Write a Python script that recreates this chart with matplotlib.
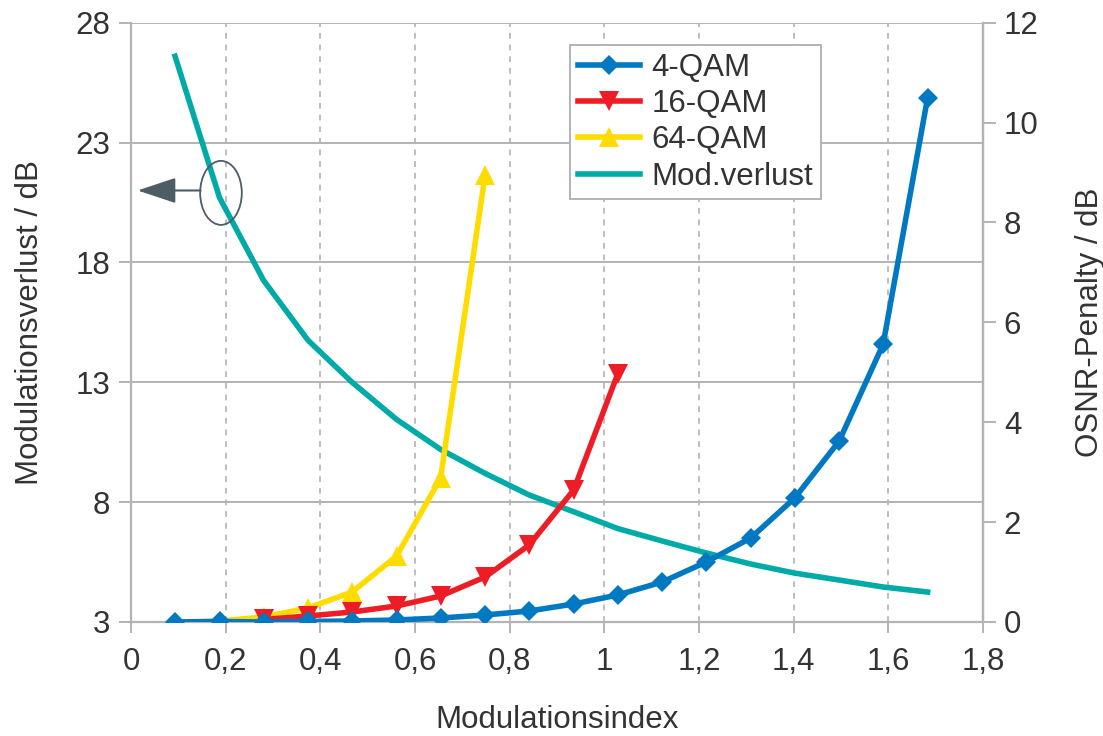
import matplotlib
matplotlib.use("Agg")
import matplotlib.pyplot as plt
from matplotlib.patches import Ellipse
from matplotlib.lines import Line2D
from matplotlib.ticker import FuncFormatter, MultipleLocator

plt.rcParams['font.family'] = ['Liberation Sans', 'DejaVu Sans']

# Modulationsindex
mod_index = [0.093, 0.187, 0.280, 0.374, 0.467, 0.561, 0.654, 0.748, 0.841,
             0.935, 1.028, 1.122, 1.215, 1.309, 1.402, 1.496, 1.589, 1.683]

# OSNR-Penalty / dB (right axis)
qam4 = [0.0, 0.01, 0.0, 0.01, 0.02, 0.04, 0.08, 0.14, 0.22,
        0.36, 0.54, 0.80, 1.20, 1.68, 2.48, 3.62, 5.56, 10.5]
qam16_index = mod_index[2:11]
qam16 = [0.05, 0.12, 0.20, 0.32, 0.52, 0.90, 1.54, 2.64, 4.96]
qam64 = [0.0, 0.02, 0.10, 0.28, 0.60, 1.32, 2.88, 8.94]

# Modulationsverlust / dB (left axis)
modverlust = [26.6, 20.7, 17.25, 14.75, 13.0, 11.45, 10.2, 9.2, 8.3,
              7.6, 6.9, 6.38, 5.88, 5.42, 5.04, 4.75, 4.46, 4.25]

c_blue = '#0079c2'
c_red = '#ee1d25'
c_yellow = '#ffdc00'
c_teal = '#00aaa7'
c_grid = '#b3b3b3'
c_text = '#333333'
fs = 22.5
lw = 4.0

fig = plt.figure(figsize=(11.03, 7.36), dpi=100)
ax = fig.add_axes([0.1188, 0.1549, 0.7724, 0.8143])
ax2 = ax.twinx()

ax.plot(mod_index, modverlust, color=c_teal, lw=lw)
ax2.plot(mod_index[:len(qam64)], qam64, color=c_yellow, lw=lw,
         marker='^', ms=15, mew=0)
ax2.plot(qam16_index, qam16, color=c_red, lw=lw,
         marker='v', ms=15, mew=0)
ax2.plot(mod_index, qam4, color=c_blue, lw=lw, marker='D', ms=10.5, mew=0)

ax.set_xlim(0, 1.8)
ax.set_ylim(3, 28)
ax2.set_ylim(0, 12)
ax.xaxis.set_major_locator(MultipleLocator(0.2))
ax.set_yticks([3, 8, 13, 18, 23, 28])
ax2.set_yticks([0, 2, 4, 6, 8, 10, 12])
ax.xaxis.set_major_formatter(FuncFormatter(lambda v, p: f'{v:g}'.replace('.', ',')))

# grid
ax.set_axisbelow(True)
for y in [8, 13, 18, 23, 28]:
    ax.axhline(y, color=c_grid, lw=1.4, zorder=0)
for x in [0.2, 0.4, 0.6, 0.8, 1.0, 1.2, 1.4, 1.6]:
    ax.axvline(x, color=c_grid, lw=1.2, ls=(0, (3.5, 3.5)), zorder=0)

for a in (ax, ax2):
    for s in a.spines.values():
        s.set_color(c_grid)
        s.set_linewidth(1.6)
    a.spines['top'].set_visible(False)
ax2.spines['left'].set_visible(False)
ax2.spines['bottom'].set_visible(False)

ax.tick_params(axis='y', length=9, width=1.4, color=c_grid, labelsize=fs,
               labelcolor=c_text, pad=6)
ax.tick_params(axis='x', length=8, width=1.4, color=c_grid, labelsize=fs,
               labelcolor=c_text, pad=10)
ax2.tick_params(axis='y', length=9, width=1.4, color=c_grid, labelsize=fs,
                labelcolor=c_text, pad=6)

ax.set_xlabel('Modulationsindex', fontsize=fs, color=c_text, labelpad=20)
ax.set_ylabel('Modulationsverlust / dB', fontsize=fs, color=c_text, labelpad=22)
ax2.set_ylabel('OSNR-Penalty / dB', fontsize=fs, color=c_text, labelpad=26)

# ellipse + arrow marking the curve that belongs to the left axis
ax.add_patch(Ellipse((0.19, 20.9), 0.088, 2.67, fill=False, ec='#4d5d66',
                     lw=1.3, zorder=5))
ax.annotate('', xy=(0.014, 21.0), xytext=(0.147, 21.0),
            arrowprops=dict(arrowstyle='-|>,head_length=1.2,head_width=0.4',
                            color='#4d5d66', lw=1.5, shrinkA=0, shrinkB=0,
                            mutation_scale=20), zorder=5)

handles = [
    Line2D([], [], color=c_blue, lw=lw, marker='D', ms=10.5, mew=0),
    Line2D([], [], color=c_red, lw=lw, marker='v', ms=15, mew=0),
    Line2D([], [], color=c_yellow, lw=lw, marker='^', ms=15, mew=0),
    Line2D([], [], color=c_teal, lw=lw),
]
labels = ['4-QAM', '16-QAM', '64-QAM', 'Mod.verlust']
leg = fig.legend(handles, labels, loc='upper left',
                 bbox_to_anchor=(570 / 1103, 1 - 45 / 736), fontsize=fs,
                 frameon=True, fancybox=False, framealpha=1, edgecolor=c_grid,
                 handlelength=2.0, handletextpad=0.35, labelspacing=0.2,
                 borderpad=0.25, borderaxespad=0)
for t in leg.get_texts():
    t.set_color(c_text)
leg.get_frame().set_linewidth(1.4)

fig.savefig('out.png', dpi=100)
